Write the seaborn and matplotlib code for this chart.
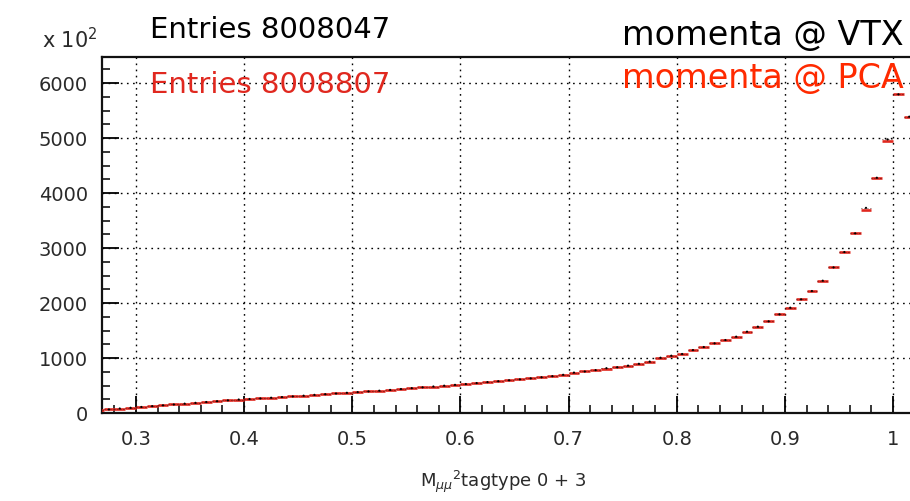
import numpy as np
import pandas as pd
import matplotlib
matplotlib.use("Agg")
import matplotlib.pyplot as plt
from matplotlib.ticker import MultipleLocator
import seaborn as sns

# Histogram binning: 0.01-wide bins starting at 0.26
bin_start = 0.26
bin_width = 0.01

# Counts (x 10^2) per bin, momenta at the vertex (bins 0.26 ... 1.01)
counts_vtx = [
    55, 65, 82, 95, 110, 125, 140, 155, 170, 185,
    200, 215, 230, 245, 255, 265, 278, 290, 302, 315,
    330, 342, 355, 368, 380, 393, 406, 420, 436, 452,
    467, 482, 497, 512, 527, 545, 562, 578, 595, 612,
    630, 650, 670, 695, 735, 755, 780, 815, 832, 862,
    895, 935, 1005, 1042, 1073, 1145, 1200, 1267, 1327, 1388,
    1479, 1570, 1667, 1794, 1915, 2067, 2218, 2406, 2648, 2927,
    3267, 3730, 4278, 4975, 5794, 5388,
]

# Counts (x 10^2) per bin, momenta at the point of closest approach
counts_pca = [
    55, 65, 82, 95, 110, 125, 140, 155, 170, 185,
    200, 215, 230, 245, 255, 265, 278, 290, 302, 315,
    330, 342, 355, 368, 380, 393, 406, 420, 436, 452,
    467, 482, 497, 512, 527, 545, 562, 578, 595, 612,
    630, 650, 670, 695, 735, 755, 780, 798, 832, 862,
    895, 935, 1005, 1042, 1073, 1145, 1200, 1267, 1327, 1388,
    1479, 1570, 1667, 1794, 1915, 2067, 2218, 2406, 2648, 2927,
    3267, 3690, 4278, 4950, 5794, 5388,
]

entries_vtx = "Entries 8008047"
entries_pca = "Entries 8008807"
label_vtx = "momenta @ VTX"
label_pca = "momenta @ PCA"
x_title = r"M$_{\mu\mu}$$^{2}$tagtype 0 + 3"

x_ticks = [0.3, 0.4, 0.5, 0.6, 0.7, 0.8, 0.9, 1.0]
x_tick_labels = ["0.3", "0.4", "0.5", "0.6", "0.7", "0.8", "0.9", "1"]
y_ticks = [0, 1000, 2000, 3000, 4000, 5000, 6000]

n_bins = len(counts_vtx)
lo = bin_start + bin_width * np.arange(n_bins)
df = pd.DataFrame({
    "lo": lo,
    "hi": lo + bin_width,
    "center": lo + bin_width / 2,
    "vtx": counts_vtx,
    "pca": counts_pca,
})

sns.set_theme(style="white")
plt.rcParams["font.family"] = ["DejaVu Sans"]

fig = plt.figure(figsize=(9.1, 5.01), dpi=100)
ax = fig.add_axes([0.1121, 0.1756, 0.8879, 0.7106])
ax.set_facecolor("white")

RED = "#e0281f"

# Red histogram (PCA) as horizontal bin bars, adjacent bars touching
ax.hlines(df["pca"], df["lo"], df["hi"], colors=RED, linewidth=1.9,
          zorder=3)
# Black histogram (VTX): thin dotted bars with small markers on top
ax.hlines(df["vtx"], df["lo"], df["hi"], colors="#3a0a0a", linewidth=0.6,
          linestyles=(0, (1.0, 2.6)), zorder=4)
sns.scatterplot(data=df, x="center", y="vtx", ax=ax, marker="o", s=2.5,
                color="black", edgecolor="none", zorder=5, legend=False)

ax.set_xlim(0.2686, 1.0157)
ax.set_ylim(0, 6473)

ax.set_xticks(x_ticks)
ax.set_xticklabels(x_tick_labels)
ax.set_yticks(y_ticks)
ax.xaxis.set_minor_locator(MultipleLocator(0.02))
ax.yaxis.set_minor_locator(MultipleLocator(250))

ax.tick_params(axis="both", which="major", direction="in", length=12,
               width=1.3, color="black", labelsize=14, labelcolor="#2a2a2a",
               pad=10, bottom=True, left=True, top=False, right=False)
ax.tick_params(axis="both", which="minor", direction="in", length=5.5,
               width=1.1, color="black", bottom=True, left=True,
               top=False, right=False)
ax.tick_params(axis="x", which="major", pad=12)

ax.grid(True, which="major", color="black", linestyle=(0, (1.2, 3.2)),
        linewidth=1.0)
ax.set_axisbelow(True)

for side in ("left", "bottom", "top"):
    ax.spines[side].set_visible(True)
    ax.spines[side].set_color("#111111")
    ax.spines[side].set_linewidth(1.6)
ax.spines["right"].set_visible(False)

ax.set_xlabel("")
ax.set_ylabel("")

# Axis title and exponent
fig.text(420 / 910, 1 - 482 / 501, x_title, fontsize=13, color="#2a2a2a",
         ha="left", va="center")
fig.text(98 / 910, 1 - 48 / 501, r"x 10$^{2}$", fontsize=15,
         color="#2a2a2a", ha="right", va="baseline")

# Statistics and labels
fig.text(150 / 910, 1 - 38 / 501, entries_vtx, fontsize=21, color="black",
         ha="left", va="baseline")
fig.text(150 / 910, 1 - 93 / 501, entries_pca, fontsize=21, color=RED,
         ha="left", va="baseline")
fig.text(622 / 910, 1 - 45 / 501, label_vtx, fontsize=24, color="black",
         ha="left", va="baseline")
fig.text(622 / 910, 1 - 88 / 501, label_pca, fontsize=24, color="#ff2a00",
         ha="left", va="baseline")

fig.savefig("out.png", dpi=100, facecolor="white")
